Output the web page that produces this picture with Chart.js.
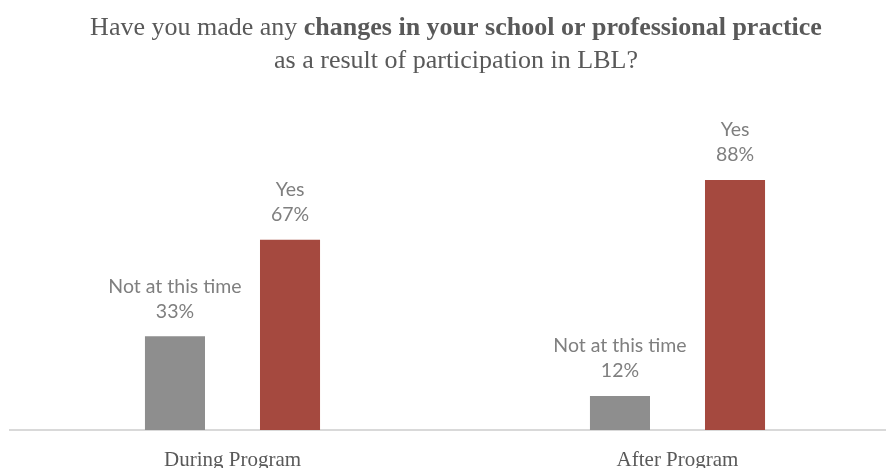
<!DOCTYPE html>
<html>
<head>
<meta charset="utf-8">
<script src="https://cdn.jsdelivr.net/npm/chart.js@4/dist/chart.umd.min.js"></script>
<style>
  html, body { margin: 0; padding: 0; background: #fff; overflow: hidden; }
  #wrap { width: 886px; height: 468px; overflow: hidden; position: relative; }
  canvas { display: block; }
</style>
</head>
<body>
<div id="wrap"><canvas id="c" width="910" height="468"></canvas></div>
<script>
const categories = ["During Program", "After Program"];
const seriesNames = ["Not at this time", "Yes"];
const notAtThisTime = [33, 12];
const yes = [67, 88];
const titleLine1Regular = "Have you made any ";
const titleLine1Bold = "changes in your school or professional practice";
const titleLine2 = "as a result of participation in LBL?";

const labelPlugin = {
  id: 'barLabels',
  afterDatasetsDraw(chart) {
    const ctx = chart.ctx;
    ctx.save();
    ctx.font = '19.5px Lato';
    ctx.fillStyle = '#7f7f7f';
    ctx.textAlign = 'center';
    ctx.textBaseline = 'middle';
    chart.data.datasets.forEach((ds, i) => {
      const meta = chart.getDatasetMeta(i);
      meta.data.forEach((el, j) => {
        ctx.fillText(ds.label, el.x, el.y - 50);
        ctx.fillText(ds.data[j] + '%', el.x, el.y - 25);
      });
    });
    ctx.restore();
  }
};

const titlePlugin = {
  id: 'mixedTitle',
  afterDraw(chart) {
    const ctx = chart.ctx;
    ctx.save();
    ctx.fillStyle = '#595959';
    ctx.textBaseline = 'middle';
    ctx.textAlign = 'left';
    const cx = 456;
    const reg = '26px "Liberation Serif"';
    const bold = 'bold 26px "Liberation Serif"';
    ctx.font = reg;
    const w1 = ctx.measureText(titleLine1Regular).width;
    ctx.font = bold;
    const w2 = ctx.measureText(titleLine1Bold).width;
    let x = cx - (w1 + w2) / 2;
    ctx.font = reg;
    ctx.fillText(titleLine1Regular, x, 28);
    ctx.font = bold;
    ctx.fillText(titleLine1Bold, x + w1, 28);
    ctx.font = reg;
    ctx.textAlign = 'center';
    ctx.fillText(titleLine2, cx, 61);
    ctx.restore();
  }
};

new Chart(document.getElementById('c'), {
  type: 'bar',
  data: {
    labels: categories,
    datasets: [
      { label: seriesNames[0], data: notAtThisTime, backgroundColor: '#8e8e8e',
        categoryPercentage: 0.517, barPercentage: 0.522 },
      { label: seriesNames[1], data: yes, backgroundColor: '#a5493f',
        categoryPercentage: 0.517, barPercentage: 0.522 }
    ]
  },
  options: {
    responsive: false,
    animation: false,
    layout: { padding: { top: 146, left: 10, right: 10, bottom: 0 } },
    plugins: { legend: { display: false }, tooltip: { enabled: false }, title: { display: false } },
    scales: {
      y: { display: false, min: 0, max: 100 },
      x: {
        grid: { display: false, drawTicks: false },
        border: { display: true, color: '#d9d9d9', width: 2 },
        ticks: { color: '#595959', font: { family: '"Liberation Serif"', size: 21 }, padding: 18 },
        afterFit(scale) { scale.height = 38; }
      }
    }
  },
  plugins: [labelPlugin, titlePlugin]
});
</script>
</body>
</html>
